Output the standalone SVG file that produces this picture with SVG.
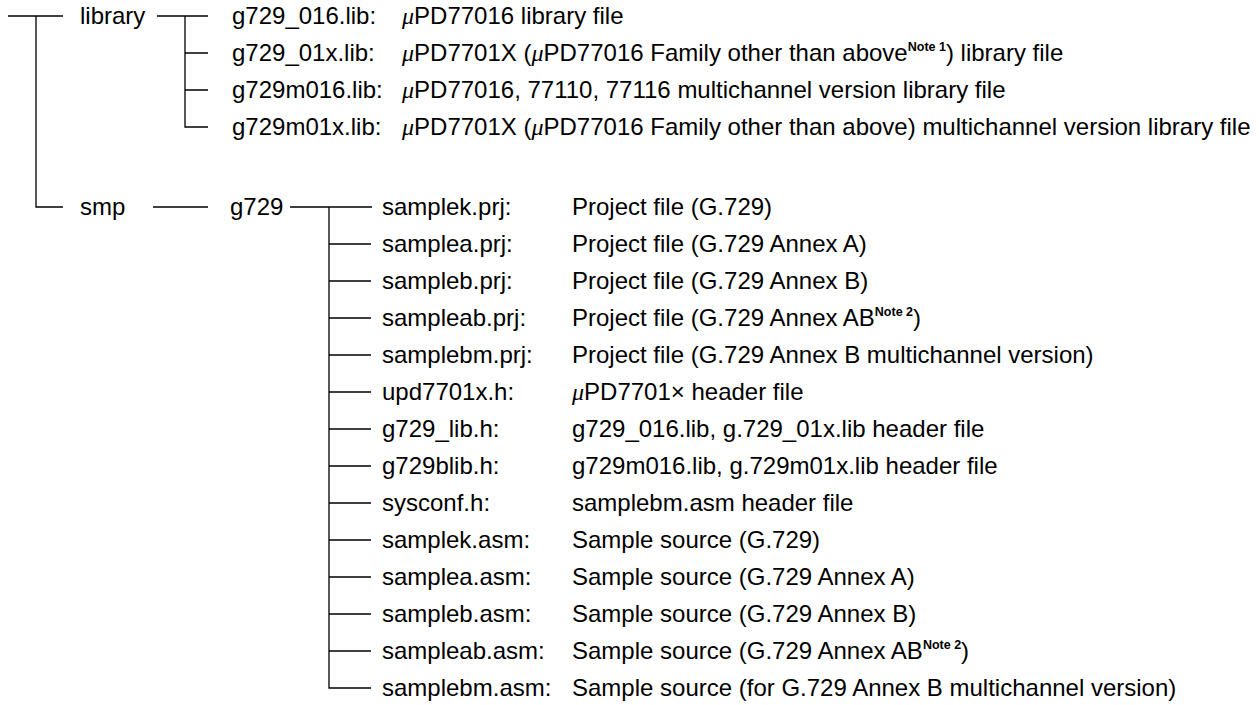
<svg xmlns="http://www.w3.org/2000/svg" width="1259" height="705" viewBox="0 0 1259 705">
<style>
text{font-family:"Liberation Sans",Arial,sans-serif;font-size:24px;fill:#000}
.mu{font-family:"Liberation Serif","DejaVu Serif",serif;font-style:italic}
.sup{font-size:12.5px;font-weight:bold}
.ln{stroke:#000;stroke-width:1.3;fill:none}
</style>
<rect width="1259" height="705" fill="#fff"/>
<g id="connectors" class="ln">
<path d="M8,16H63M36,16V207H63"/>
<path d="M157,16H208M185,16V127H208M185,53H208M185,90H208"/>
<path d="M153,207H208"/>
<path d="M290,207H372M329,207V688H371M329,244H371M329,281H371M329,318H371M329,355H371M329,392H371M329,429H371M329,466H371M329,503H371M329,540H371M329,577H371M329,614H371M329,651H371"/>
</g>
<g id="library"><text x="80" y="24">library</text></g>
<g id="smp"><text x="80" y="215">smp</text></g>
<g id="g729"><text x="230" y="215">g729</text></g>
<g id="lib1"><text x="232" y="24">g729_016.lib:</text><text x="402" y="24"><tspan class="mu">μ</tspan>PD77016 library file</text></g>
<g id="lib2"><text x="232" y="61">g729_01x.lib:</text><text x="402" y="61"><tspan class="mu">μ</tspan>PD7701X (<tspan class="mu">μ</tspan>PD77016 Family other than above<tspan class="sup" dy="-10">Note 1</tspan><tspan dy="10">) library file</tspan></text></g>
<g id="lib3"><text x="232" y="98">g729m016.lib:</text><text x="402" y="98"><tspan class="mu">μ</tspan>PD77016, 77110, 77116 multichannel version library file</text></g>
<g id="lib4"><text x="232" y="135">g729m01x.lib:</text><text x="402" y="135"><tspan class="mu">μ</tspan>PD7701X (<tspan class="mu">μ</tspan>PD77016 Family other than above) multichannel version library file</text></g>
<g id="f1"><text x="382" y="215">samplek.prj:</text><text x="572" y="215">Project file (G.729)</text></g>
<g id="f2"><text x="382" y="252">samplea.prj:</text><text x="572" y="252">Project file (G.729 Annex A)</text></g>
<g id="f3"><text x="382" y="289">sampleb.prj:</text><text x="572" y="289">Project file (G.729 Annex B)</text></g>
<g id="f4"><text x="382" y="326">sampleab.prj:</text><text x="572" y="326">Project file (G.729 Annex AB<tspan class="sup" dy="-10">Note 2</tspan><tspan dy="10">)</tspan></text></g>
<g id="f5"><text x="382" y="363">samplebm.prj:</text><text x="572" y="363">Project file (G.729 Annex B multichannel version)</text></g>
<g id="f6"><text x="382" y="400">upd7701x.h:</text><text x="572" y="400"><tspan class="mu">μ</tspan>PD7701× header file</text></g>
<g id="f7"><text x="382" y="437">g729_lib.h:</text><text x="572" y="437">g729_016.lib, g.729_01x.lib header file</text></g>
<g id="f8"><text x="382" y="474">g729blib.h:</text><text x="572" y="474">g729m016.lib, g.729m01x.lib header file</text></g>
<g id="f9"><text x="382" y="511">sysconf.h:</text><text x="572" y="511">samplebm.asm header file</text></g>
<g id="f10"><text x="382" y="548">samplek.asm:</text><text x="572" y="548">Sample source (G.729)</text></g>
<g id="f11"><text x="382" y="585">samplea.asm:</text><text x="572" y="585">Sample source (G.729 Annex A)</text></g>
<g id="f12"><text x="382" y="622">sampleb.asm:</text><text x="572" y="622">Sample source (G.729 Annex B)</text></g>
<g id="f13"><text x="382" y="659">sampleab.asm:</text><text x="572" y="659">Sample source (G.729 Annex AB<tspan class="sup" dy="-10">Note 2</tspan><tspan dy="10">)</tspan></text></g>
<g id="f14"><text x="382" y="696">samplebm.asm:</text><text x="572" y="696">Sample source (for G.729 Annex B multichannel version)</text></g>
</svg>
